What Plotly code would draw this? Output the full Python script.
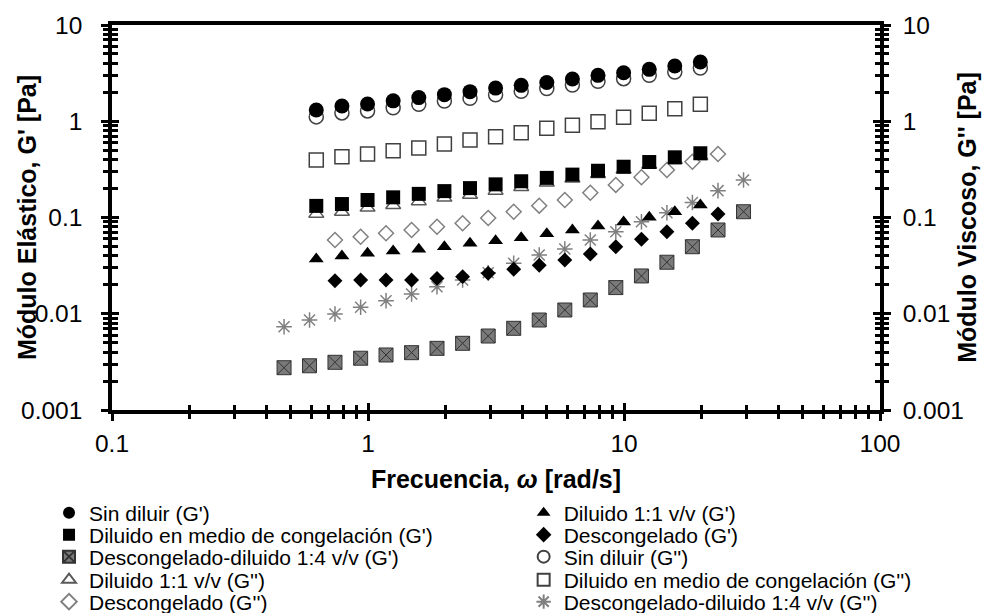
import plotly.graph_objects as go

FONT = "Arial, Liberation Sans, sans-serif"

# Angular frequency sweeps (rad/s)
freq_a = [0.628, 0.791, 0.996, 1.254, 1.579, 1.988, 2.503, 3.151,
          3.967, 4.994, 6.287, 7.915, 9.965, 12.55, 15.79, 19.87]
freq_b = [0.470, 0.591, 0.743, 0.936, 1.176, 1.480, 1.860, 2.342, 2.948, 3.708,
          4.665, 5.872, 7.386, 9.290, 11.70, 14.71, 18.50, 23.29, 29.30]
freq_c = [0.743, 0.936, 1.176, 1.480, 1.860, 2.342, 2.948, 3.708,
          4.665, 5.872, 7.386, 9.290, 11.70, 14.71, 18.50, 23.29]

# Storage modulus G' (Pa)
sin_diluir_g1 = [1.31, 1.44, 1.51, 1.63, 1.76, 1.89, 2.03, 2.21,
                 2.36, 2.53, 2.75, 3.00, 3.19, 3.46, 3.75, 4.13]
dil_11_g1 = [0.0371, 0.0398, 0.0425, 0.0449, 0.0468, 0.0498, 0.0540, 0.0574,
             0.0617, 0.0677, 0.0742, 0.0816, 0.0898, 0.1005, 0.1148, 0.135]
medio_g1 = [0.132, 0.138, 0.152, 0.162, 0.176, 0.188, 0.202, 0.221,
            0.238, 0.258, 0.279, 0.306, 0.337, 0.377, 0.422, 0.465]
descong_g1 = [0.0220, 0.0224, 0.0224, 0.0224, 0.0233, 0.0243, 0.0263, 0.0290,
              0.0319, 0.0361, 0.0417, 0.0497, 0.0594, 0.0712, 0.0870, 0.1087]
desc_dil_g1 = [0.00275, 0.00288, 0.00313, 0.00345, 0.00373, 0.00394, 0.00437,
               0.00493, 0.00587, 0.00706, 0.00861, 0.01094, 0.0139, 0.0187,
               0.0247, 0.0343, 0.0497, 0.0742, 0.1148]

# Loss modulus G'' (Pa)
sin_diluir_g2 = [1.11, 1.22, 1.28, 1.38, 1.50, 1.62, 1.73, 1.88,
                 2.05, 2.19, 2.38, 2.60, 2.77, 3.00, 3.25, 3.57]
dil_11_g2 = [0.109, 0.114, 0.126, 0.134, 0.147, 0.160, 0.171, 0.189,
             0.206, 0.229, 0.253, 0.282, 0.314, 0.351, 0.393, 0.433]
medio_g2 = [0.396, 0.429, 0.457, 0.495, 0.527, 0.580, 0.639, 0.691,
            0.760, 0.845, 0.908, 0.989, 1.10, 1.21, 1.35, 1.50]
descong_g2 = [0.0583, 0.0631, 0.0685, 0.0742, 0.0802, 0.0870, 0.0988, 0.1149,
              0.1327, 0.152, 0.181, 0.218, 0.262, 0.312, 0.380, 0.457]
desc_dil_g2 = [0.00733, 0.00861, 0.00993, 0.01167, 0.01366, 0.01602, 0.0191,
               0.0224, 0.0267, 0.0334, 0.0408, 0.0471, 0.0583, 0.0712,
               0.0903, 0.1122, 0.1432, 0.190, 0.245]

tick_vals = [0.001, 0.01, 0.1, 1, 10]

fig = go.Figure()

# Open (G'') markers sit on the base subplot; the filled (G') markers go on the
# overlay subplots so they are drawn on top. Every overlay shares the same log
# range, and each one carries one half of the crossing tick marks.
# (name, x, y, xaxis, yaxis, symbol, size, fill, line colour, line width, legend, column, row)
series = [
    ("Sin diluir (G'')", freq_a, sin_diluir_g2, "x", "y", "circle", 14, "white", "#404040", 1.5, "legend8", 1, 2),
    ("Diluido 1:1 v/v (G'')", freq_a, dil_11_g2, "x", "y", "triangle-up", 13, "white", "#595959", 1.5, "legend4", 0, 3),
    ("Diluido en medio de congelación (G'')", freq_a, medio_g2, "x", "y", "square", 14, "white", "#404040", 1.5, "legend9", 1, 3),
    ("Descongelado (G'')", freq_c, descong_g2, "x", "y", "diamond", 11.5, "white", "#808080", 1.5, "legend5", 0, 4),
    ("Descongelado-diluido 1:4 v/v (G'')", freq_b, desc_dil_g2, "x", "y", "asterisk-open", 13, "#808080", "#808080", 1.5, "legend10", 1, 4),
    ("Descongelado-diluido 1:4 v/v (G')", freq_b, desc_dil_g1, "x", "y4", "square-x", 14, "#7a7a7a", "#333333", 1, "legend3", 0, 2),
    ("Diluido 1:1 v/v (G')", freq_a, dil_11_g1, "x", "y2", "triangle-up", 13, "black", "black", 0, "legend6", 1, 0),
    ("Descongelado (G')", freq_c, descong_g1, "x", "y2", "diamond", 11.5, "black", "black", 0, "legend7", 1, 1),
    ("Sin diluir (G')", freq_a, sin_diluir_g1, "x2", "y3", "circle", 15, "black", "black", 0, "legend", 0, 0),
    ("Diluido en medio de congelación (G')", freq_a, medio_g1, "x2", "y3", "square", 14, "black", "black", 0, "legend2", 0, 1),
]

legend_layout = {}
col_x = [-0.082, 0.536]
row_y = [-0.2675, -0.3247, -0.3818, -0.4416, -0.4987]

for name, xs, ys, xax, yax, sym, size, fill, lcol, lw, leg, col, row in series:
    fig.add_trace(go.Scatter(
        x=xs, y=ys, mode="markers", name=name, xaxis=xax, yaxis=yax, legend=leg,
        marker=dict(symbol=sym, size=size, color=fill,
                    line=dict(color=lcol, width=lw)),
        showlegend=True,
    ))
    legend_layout[leg] = dict(
        x=col_x[col], y=row_y[row], xanchor="left", yanchor="middle",
        bgcolor="rgba(0,0,0,0)", borderwidth=0, itemsizing="constant",
        font=dict(family=FONT, size=21, color="black"),
    )

tick_font = dict(family=FONT, size=24.5, color="black")
title_font = dict(family=FONT, size=25, color="black", weight="bold")
minor_out = dict(ticks="outside", ticklen=5.5, tickwidth=2.5, tickcolor="black",
                 dtick="D1", showgrid=False)
minor_in = dict(ticks="inside", ticklen=5.5, tickwidth=2.5, tickcolor="black",
                dtick="D1", showgrid=False)
major = dict(type="log", showgrid=False, zeroline=False, tickcolor="black",
             tickwidth=3, ticklen=7, automargin=True)

fig.update_layout(
    width=983, height=613,
    margin=dict(l=112, r=103, t=25, b=203, autoexpand=False),
    paper_bgcolor="white", plot_bgcolor="white",
    font=dict(family=FONT, color="black"),
    # bottom axis: outward ticks, labels and the top frame line
    xaxis=dict(**major, range=[-1, 2], dtick=1, tickformat="~g",
               ticks="outside", minor=minor_out, showline=True, linewidth=3.5,
               linecolor="black", mirror=True, tickfont=tick_font,
               ticklabelstandoff=2),
    # bottom axis, inward half of the ticks, carries the axis title
    xaxis2=dict(**major, range=[-1, 2], dtick=1, overlaying="x", anchor="y",
                side="bottom", ticks="inside", minor=minor_in,
                showticklabels=False, showline=False,
                title=dict(text="Frecuencia, <i>ω</i> [rad/s]", font=title_font,
                           standoff=60)),
    yaxis=dict(**major, range=[-3, 1], tickvals=tick_vals, tickformat="~g",
               ticks="outside", minor=minor_out, showline=True, linewidth=3.5,
               linecolor="black", tickfont=tick_font, ticklabelstandoff=14),
    yaxis2=dict(**major, range=[-3, 1], tickvals=tick_vals, tickformat="~g",
                overlaying="y", anchor="x", side="right", ticks="outside",
                minor=minor_out, showline=True, linewidth=3.5, linecolor="black",
                tickfont=tick_font, ticklabelstandoff=7),
    yaxis3=dict(**major, range=[-3, 1], tickvals=tick_vals, overlaying="y",
                anchor="x", side="left", ticks="inside", minor=minor_in,
                showticklabels=False, showline=False,
                title=dict(text="Módulo Elástico, G' [Pa]", font=title_font,
                           standoff=67)),
    yaxis4=dict(**major, range=[-3, 1], tickvals=tick_vals, overlaying="y",
                anchor="x", side="right", ticks="inside", minor=minor_in,
                showticklabels=False, showline=False,
                title=dict(text="Módulo Viscoso, G'' [Pa]", font=title_font,
                           standoff=78)),
    showlegend=True,
    **legend_layout,
)

fig.write_html("out.html")
